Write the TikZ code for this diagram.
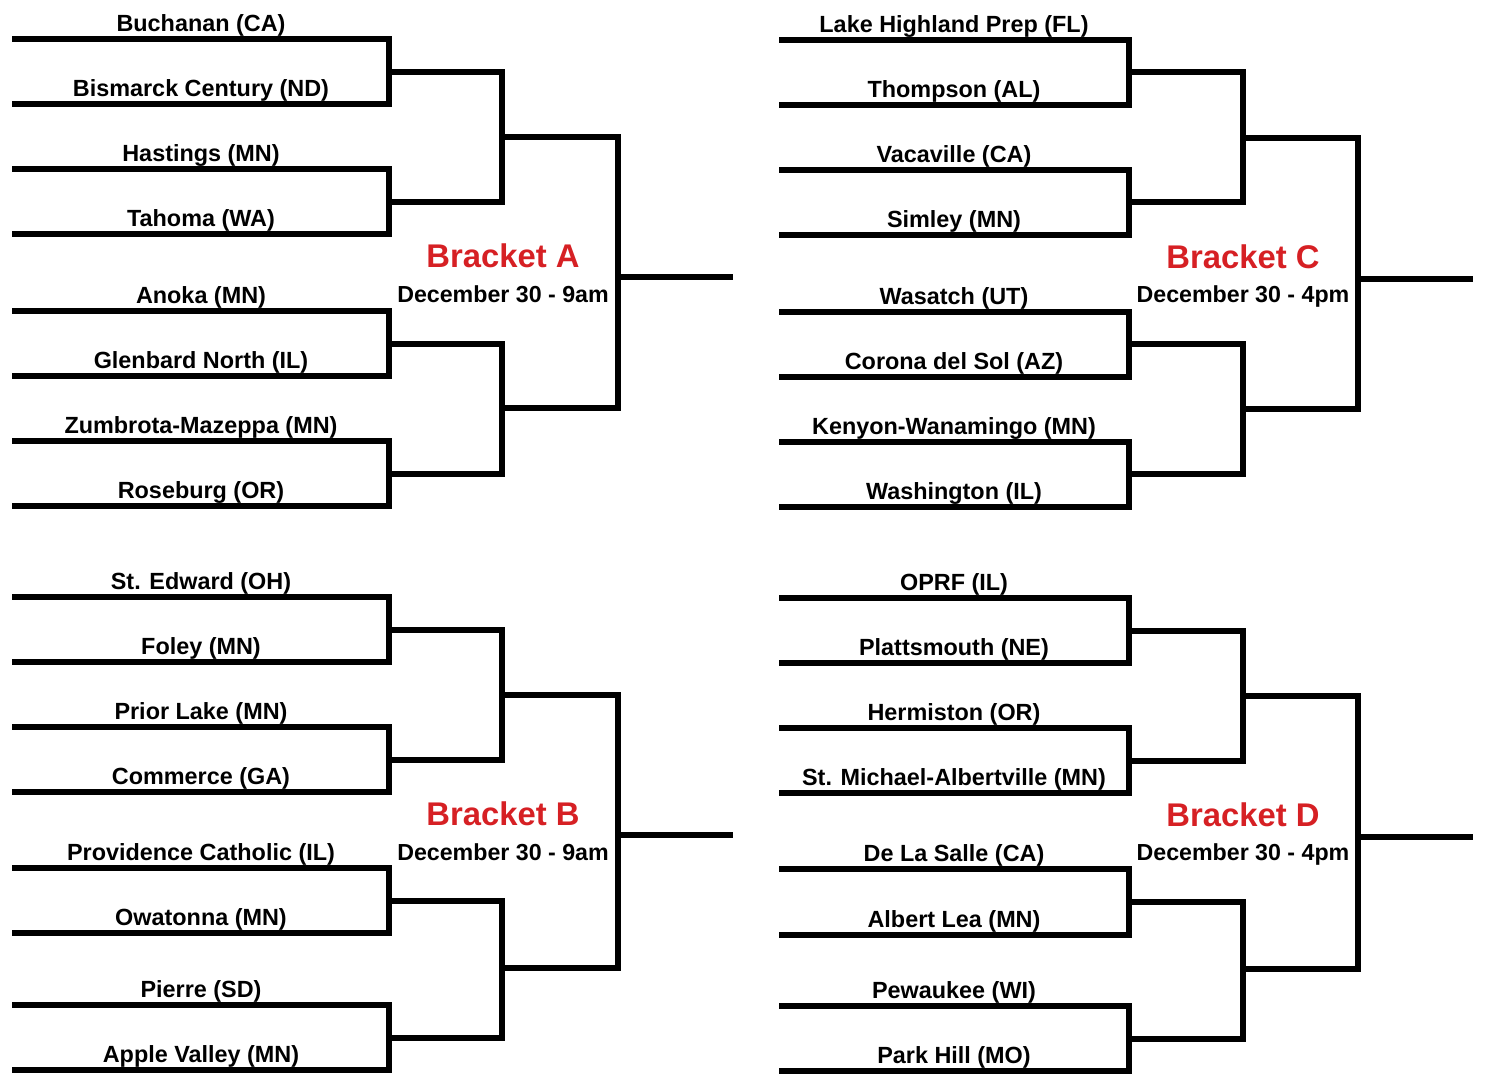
\documentclass[tikz,border=0pt]{standalone}
\usepackage{fontspec}
\setmainfont{Liberation Sans}
\definecolor{titlered}{RGB}{214,32,36}

\begin{document}
\begin{tikzpicture}[x=0.5pt,y=-0.5pt,
	bracketline/.style={line width=2.6pt,line join=miter},
	teamname/.style={anchor=base,inner sep=0pt,font=\bfseries\fontsize{11.7}{13}\selectfont},
	brackettitle/.style={anchor=base,inner sep=0pt,text=titlered,font=\bfseries\fontsize{16.4}{19}\selectfont},
	bracketdate/.style={anchor=base,inner sep=0pt,font=\bfseries\fontsize{11.6}{13}\selectfont}]
	\useasboundingbox (0,0) rectangle (1500,1089);

	% Bracket A
	\foreach \t/\y [count=\i] in {Buchanan (CA)/39,Bismarck Century (ND)/104,Hastings (MN)/169,Tahoma (WA)/234,Anoka (MN)/311,Glenbard North (IL)/376,Zumbrota-Mazeppa (MN)/441,Roseburg (OR)/506} {
		\node[teamname] (a\i) at (201,\y-8) {\t};
		\coordinate (a\i l) at (12,\y);
		\coordinate (a\i r) at (389,\y);
	}
	\foreach \i/\j in {1/2,3/4,5/6,7/8}
		\draw[bracketline] (a\i l) -- (a\i r) -- (a\j r) -- (a\j l);
	\coordinate (aq1) at (502,72);
	\coordinate (aq2) at (502,202);
	\coordinate (aq3) at (502,344);
	\coordinate (aq4) at (502,474);
	\draw[bracketline] (aq1 -| a1r) -- (aq1) -- (aq2) -- (aq2 -| a3r);
	\draw[bracketline] (aq3 -| a5r) -- (aq3) -- (aq4) -- (aq4 -| a7r);
	\coordinate (as1) at (618,137);
	\coordinate (as2) at (618,408);
	\draw[bracketline] (as1 -| aq1) -- (as1) -- (as2) -- (as2 -| aq3);
	\coordinate (af) at (733,277);
	\draw[bracketline] (af -| as1) -- (af);
	\node[brackettitle] (ta) at (503,267) {Bracket A};
	\node[bracketdate] (da) at (503,302) {December 30 - 9am};

	% Bracket B
	\foreach \t/\y [count=\i] in {St. Edward (OH)/597,Foley (MN)/662,Prior Lake (MN)/727,Commerce (GA)/792,Providence Catholic (IL)/868,Owatonna (MN)/933,Pierre (SD)/1005,Apple Valley (MN)/1070} {
		\node[teamname] (b\i) at (201,\y-8) {\t};
		\coordinate (b\i l) at (12,\y);
		\coordinate (b\i r) at (389,\y);
	}
	\foreach \i/\j in {1/2,3/4,5/6,7/8}
		\draw[bracketline] (b\i l) -- (b\i r) -- (b\j r) -- (b\j l);
	\coordinate (bq1) at (502,630);
	\coordinate (bq2) at (502,760);
	\coordinate (bq3) at (502,901);
	\coordinate (bq4) at (502,1038);
	\draw[bracketline] (bq1 -| b1r) -- (bq1) -- (bq2) -- (bq2 -| b3r);
	\draw[bracketline] (bq3 -| b5r) -- (bq3) -- (bq4) -- (bq4 -| b7r);
	\coordinate (bs1) at (618,695);
	\coordinate (bs2) at (618,968);
	\draw[bracketline] (bs1 -| bq1) -- (bs1) -- (bs2) -- (bs2 -| bq3);
	\coordinate (bf) at (733,835);
	\draw[bracketline] (bf -| bs1) -- (bf);
	\node[brackettitle] (tb) at (503,825) {Bracket B};
	\node[bracketdate] (db) at (503,860) {December 30 - 9am};

	% Bracket C
	\foreach \t/\y [count=\i] in {Lake Highland Prep (FL)/40,Thompson (AL)/105,Vacaville (CA)/170,Simley (MN)/235,Wasatch (UT)/312,Corona del Sol (AZ)/377,Kenyon-Wanamingo (MN)/442,Washington (IL)/507} {
		\node[teamname] (c\i) at (954,\y-8) {\t};
		\coordinate (c\i l) at (779,\y);
		\coordinate (c\i r) at (1129,\y);
	}
	\foreach \i/\j in {1/2,3/4,5/6,7/8}
		\draw[bracketline] (c\i l) -- (c\i r) -- (c\j r) -- (c\j l);
	\coordinate (cq1) at (1243,72);
	\coordinate (cq2) at (1243,202);
	\coordinate (cq3) at (1243,344);
	\coordinate (cq4) at (1243,474);
	\draw[bracketline] (cq1 -| c1r) -- (cq1) -- (cq2) -- (cq2 -| c3r);
	\draw[bracketline] (cq3 -| c5r) -- (cq3) -- (cq4) -- (cq4 -| c7r);
	\coordinate (cs1) at (1358,138);
	\coordinate (cs2) at (1358,409);
	\draw[bracketline] (cs1 -| cq1) -- (cs1) -- (cs2) -- (cs2 -| cq3);
	\coordinate (cf) at (1473,279);
	\draw[bracketline] (cf -| cs1) -- (cf);
	\node[brackettitle] (tc) at (1243,268) {Bracket C};
	\node[bracketdate] (dc) at (1243,302) {December 30 - 4pm};

	% Bracket D
	\foreach \t/\y [count=\i] in {OPRF (IL)/598,Plattsmouth (NE)/663,Hermiston (OR)/728,St. Michael-Albertville (MN)/793,De La Salle (CA)/869,Albert Lea (MN)/935,Pewaukee (WI)/1006,Park Hill (MO)/1071} {
		\node[teamname] (d\i) at (954,\y-8) {\t};
		\coordinate (d\i l) at (779,\y);
		\coordinate (d\i r) at (1129,\y);
	}
	\foreach \i/\j in {1/2,3/4,5/6,7/8}
		\draw[bracketline] (d\i l) -- (d\i r) -- (d\j r) -- (d\j l);
	\coordinate (dq1) at (1243,631);
	\coordinate (dq2) at (1243,761);
	\coordinate (dq3) at (1243,902);
	\coordinate (dq4) at (1243,1039);
	\draw[bracketline] (dq1 -| d1r) -- (dq1) -- (dq2) -- (dq2 -| d3r);
	\draw[bracketline] (dq3 -| d5r) -- (dq3) -- (dq4) -- (dq4 -| d7r);
	\coordinate (ds1) at (1358,696);
	\coordinate (ds2) at (1358,969);
	\draw[bracketline] (ds1 -| dq1) -- (ds1) -- (ds2) -- (ds2 -| dq3);
	\coordinate (df) at (1473,837);
	\draw[bracketline] (df -| ds1) -- (df);
	\node[brackettitle] (td) at (1243,826) {Bracket D};
	\node[bracketdate] (dd) at (1243,860) {December 30 - 4pm};
\end{tikzpicture}
\end{document}
